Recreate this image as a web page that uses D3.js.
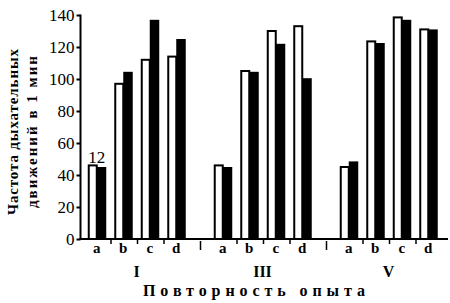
<!DOCTYPE html>
<html><head><meta charset="utf-8">
<script src="https://cdn.jsdelivr.net/npm/d3@7"></script>
<style>body{margin:0;background:#fff}svg{display:block}</style>
</head><body>
<svg id="c" width="450" height="303"></svg>
<script>
const groups = ["I", "III", "V"];
const categories = ["a", "b", "c", "d"];
// white (open) bars and black (filled) bars, per group, per category
const whiteValues = [
  [46, 97, 112, 114],
  [46, 105, 130, 133],
  [45, 123.5, 138.5, 131]
];
const blackValues = [
  [45, 104.5, 137, 125],
  [45, 104.5, 122, 100.5],
  [48.5, 122.5, 137, 131]
];
const yTicks = [0, 20, 40, 60, 80, 100, 120, 140];
const yTitle = ["Частота дыхательных", "движений в 1 мин"];
const xTitle = "Повторность опыта";
const note = "12";

const svg = d3.select("#c");
const y = d3.scaleLinear().domain([0, 140]).range([239, 15]);
const gx = d3.scaleBand().domain(groups).range([71.5, 449.5]);
const cx = d3.scaleBand().domain(categories).range([12, 118]);
const center = (g, c) => gx(g) + cx(c) + cx.bandwidth() / 2;

const serif = "Liberation Serif";

// bars
groups.forEach((g, gi) => {
  categories.forEach((c, ci) => {
    const m = center(g, c);
    const wv = whiteValues[gi][ci], bv = blackValues[gi][ci];
    svg.append("rect")
      .attr("x", m - 8).attr("y", y(wv))
      .attr("width", 8).attr("height", y(0) - y(wv))
      .attr("fill", "#fff").attr("stroke", "#000").attr("stroke-width", 2);
    svg.append("rect")
      .attr("x", m).attr("y", y(bv))
      .attr("width", 9.5).attr("height", y(0) - y(bv))
      .attr("fill", "#000");
  });
});

// y axis
const yAxis = d3.axisLeft(y).tickValues(yTicks).tickSize(4).tickSizeOuter(0).tickPadding(2);
const ya = svg.append("g").attr("transform", "translate(80.5,0)").call(yAxis)
  .attr("font-family", serif).attr("font-size", 17);
ya.select(".domain").attr("stroke", "#000").attr("stroke-width", 2).attr("d", "M0," + (y(140) - 0.5) + "V" + y(0));
ya.selectAll(".tick line").attr("stroke-width", 2);
ya.selectAll("text").style("font-family", serif).style("font-size", "17px").attr("fill", "#000");

// x axis line
svg.append("line").attr("x1", 79.5).attr("x2", 448).attr("y1", y(0)).attr("y2", y(0))
  .attr("stroke", "#000").attr("stroke-width", 2);

// category ticks & labels
groups.forEach(g => {
  categories.forEach((c, ci) => {
    const m = center(g, c);
    svg.append("text").attr("x", m).attr("y", 253).attr("text-anchor", "middle")
      .style("font-family", serif).style("font-size", "15px").style("font-weight", "bold").text(c);
    if (ci > 0) {
      const t = (m + center(g, categories[ci - 1])) / 2 + 1;
      svg.append("line").attr("x1", t).attr("x2", t).attr("y1", y(0)).attr("y2", y(0) + 5)
        .attr("stroke", "#000").attr("stroke-width", 1.5);
    }
  });
  const gm = (center(g, "b") + center(g, "c")) / 2;
  svg.append("text").attr("x", gm).attr("y", 277).attr("text-anchor", "middle")
    .style("font-family", serif).style("font-size", "16px").style("font-weight", "bold").text(g);
});
// group separators
for (let i = 1; i < groups.length; i++) {
  const t = (center(groups[i - 1], "d") + center(groups[i], "a")) / 2 + 1;
  svg.append("line").attr("x1", t).attr("x2", t).attr("y1", y(0) + 2).attr("y2", y(0) + 11)
    .attr("stroke", "#000").attr("stroke-width", 1.5);
}

// note
svg.append("text").attr("x", center("I", "a")).attr("y", 163).attr("text-anchor", "middle")
  .style("font-family", serif).style("font-size", "17px").text(note);

// x title
svg.append("text").attr("x", 143).attr("y", 296)
  .style("font-family", serif).style("font-size", "16px").style("font-weight", "bold")
  .attr("textLength", 222).attr("lengthAdjust", "spacing").text(xTitle);

// y title
const lens = [166, 152];
yTitle.forEach((t, i) => {
  svg.append("text")
    .attr("transform", `translate(${18 + i * 19},${132}) rotate(-90)`)
    .attr("text-anchor", "middle")
    .style("font-family", serif).style("font-size", "15px").style("font-weight", "bold")
    .attr("textLength", lens[i]).attr("lengthAdjust", "spacing")
    .text(t);
});
</script>
</body></html>
